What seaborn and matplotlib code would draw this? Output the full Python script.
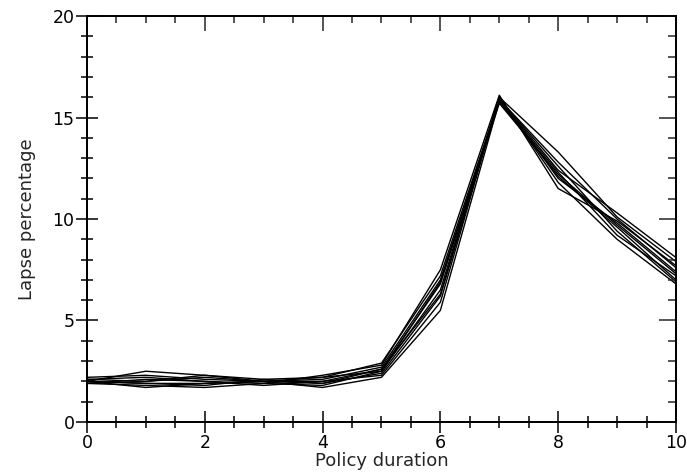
import numpy as np
import pandas as pd
import seaborn as sns
import matplotlib.pyplot as plt
from matplotlib.ticker import MultipleLocator

# policy duration (years) and lapse % for each simulated run
durations = [0, 1, 2, 3, 4, 5, 6, 7, 8, 9, 10]
lapse_1 = [2.0, 2.5, 2.3, 2.0, 1.9, 2.4, 6.2, 16.0, 13.3, 10.1, 7.9]
lapse_2 = [2.2, 2.3, 2.1, 2.0, 2.0, 2.6, 6.8, 15.9, 12.4, 10.3, 8.1]
lapse_3 = [1.9, 1.8, 1.7, 1.9, 2.3, 2.8, 7.5, 16.1, 11.5, 9.9, 7.7]
lapse_4 = [2.1, 2.0, 2.2, 2.0, 1.7, 2.2, 5.5, 15.8, 12.1, 9.6, 7.0]
lapse_5 = [2.0, 1.9, 1.8, 2.1, 2.2, 2.9, 7.2, 15.9, 12.6, 9.4, 6.9]
lapse_6 = [1.9, 2.1, 2.0, 1.9, 1.8, 2.5, 6.5, 16.0, 12.0, 9.8, 7.4]
lapse_7 = [2.0, 1.7, 1.9, 2.0, 2.1, 2.7, 7.0, 15.8, 12.3, 9.2, 7.2]
lapse_8 = [2.1, 2.2, 2.0, 1.8, 2.0, 2.3, 5.9, 16.0, 11.8, 9.0, 6.8]
lapse_9 = [1.9, 2.0, 2.3, 2.1, 1.9, 2.6, 6.3, 15.9, 12.8, 10.0, 7.6]
lapse_10 = [2.0, 1.9, 1.9, 2.0, 2.2, 2.5, 6.9, 15.7, 12.2, 9.7, 7.3]

runs = [lapse_1, lapse_2, lapse_3, lapse_4, lapse_5,
        lapse_6, lapse_7, lapse_8, lapse_9, lapse_10]

rows = []
for i, r in enumerate(runs):
    for d, v in zip(durations, r):
        rows.append({'run': i, 'duration': d, 'lapse': v})
df = pd.DataFrame(rows)

sns.set_style('ticks')
plt.rcParams['font.family'] = ['DejaVu Sans']

fig = plt.figure(figsize=(6.87, 4.72), dpi=100)
ax = fig.add_axes([0.1266, 0.106, 0.8574, 0.86])

sns.lineplot(data=df, x='duration', y='lapse', units='run', estimator=None,
             color='black', lw=1.0, ax=ax)

ax.set_xlim(0, 10)
ax.set_ylim(0, 20)
ax.xaxis.set_major_locator(MultipleLocator(2))
ax.xaxis.set_minor_locator(MultipleLocator(0.5))
ax.yaxis.set_major_locator(MultipleLocator(5))
ax.yaxis.set_minor_locator(MultipleLocator(1))

for s in ax.spines.values():
    s.set_visible(True)
    s.set_linewidth(1.2)
    s.set_color('black')

ax.tick_params(which='both', direction='inout', top=False, right=False,
               width=1.1, colors='black', labelsize=12.5, pad=1)
ax.tick_params(which='major', length=16)
ax.tick_params(which='minor', length=8)

# top / right ticks point inward only
tx = ax.twiny()
tx.set_xlim(ax.get_xlim())
tx.xaxis.set_major_locator(MultipleLocator(2))
tx.xaxis.set_minor_locator(MultipleLocator(0.5))
tx.tick_params(which='both', direction='in', top=True, bottom=False,
               labeltop=False, width=1.1)
tx.tick_params(which='major', length=11)
tx.tick_params(which='minor', length=5)

ty = ax.twinx()
ty.set_ylim(ax.get_ylim())
ty.yaxis.set_major_locator(MultipleLocator(5))
ty.yaxis.set_minor_locator(MultipleLocator(1))
ty.tick_params(which='both', direction='in', right=True, left=False,
               labelright=False, width=1.1)
ty.tick_params(which='major', length=12)
ty.tick_params(which='minor', length=6)
for a in (tx, ty):
    for s in a.spines.values():
        s.set_linewidth(1.2)
        s.set_color('black')

ax.set_xlabel('Policy duration', fontsize=13, labelpad=0)
ax.set_ylabel('Lapse percentage', fontsize=13, labelpad=12)

fig.savefig('out.png', dpi=100)
